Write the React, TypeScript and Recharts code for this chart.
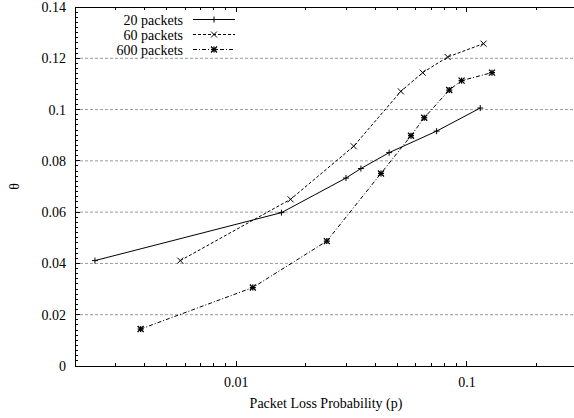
import { LineChart, Line, XAxis, YAxis, ReferenceLine, Legend } from "recharts"

// packet loss probability (p) vs theta
const p20 = [0.00244, 0.0157, 0.0299, 0.0347, 0.046, 0.0739, 0.1142]
const theta20 = [0.0411, 0.0598, 0.0733, 0.077, 0.0832, 0.0916, 0.1006]

const p60 = [0.00572, 0.0172, 0.0323, 0.0517, 0.0643, 0.0825, 0.118]
const theta60 = [0.0411, 0.065, 0.0857, 0.1071, 0.1144, 0.1205, 0.1257]

const p600 = [0.00385, 0.0118, 0.0247, 0.0424, 0.0572, 0.0653, 0.0838, 0.0948, 0.1284]
const theta600 = [0.0144, 0.0306, 0.0487, 0.0751, 0.0898, 0.0968, 0.1076, 0.1113, 0.1144]

const X_MAJOR = [0.01, 0.1]
const X_MINOR = [0.002, 0.003, 0.004, 0.005, 0.006, 0.007, 0.008, 0.009, 0.02, 0.03, 0.04, 0.05, 0.06, 0.07, 0.08, 0.09, 0.2, 0.3]
const Y_MAJOR = [0, 0.02, 0.04, 0.06, 0.08, 0.1, 0.12, 0.14]
const Y_GRID = [0.02, 0.04, 0.06, 0.08, 0.1, 0.12]
const Y_MINOR = Array.from({ length: 71 }, (_, i) => (i * 2) / 1000)

const FONT = "'Liberation Serif', 'Times New Roman', serif"

const toPoints = (xs: number[], ys: number[]) => xs.map((x, i) => ({ x, y: ys[i] }))

const series = [
  { name: "20 packets", data: toPoints(p20, theta20), dash: undefined, marker: "plus" },
  { name: "60 packets", data: toPoints(p60, theta60), dash: "3 2", marker: "cross" },
  { name: "600 packets", data: toPoints(p600, theta600), dash: "4 2 1 2", marker: "star" },
]

function Marker({ cx, cy, kind }: { cx: number; cy: number; kind: string }) {
  const s = 3
  const plus = (
    <>
      <line x1={cx - s} y1={cy} x2={cx + s} y2={cy} />
      <line x1={cx} y1={cy - s} x2={cx} y2={cy + s} />
    </>
  )
  const cross = (
    <>
      <line x1={cx - s} y1={cy - s} x2={cx + s} y2={cy + s} />
      <line x1={cx - s} y1={cy + s} x2={cx + s} y2={cy - s} />
    </>
  )
  return (
    <g stroke="#000" strokeWidth={kind === "star" ? 1.3 : 1}>
      {kind !== "cross" && plus}
      {kind !== "plus" && cross}
    </g>
  )
}

const isMajorX = (v: number) => X_MAJOR.includes(v)
const isMajorY = (v: number) => Y_MAJOR.some((m) => Math.abs(m - v) < 1e-9)

// gnuplot style: ticks point into the plot, only majors carry a label
function BottomTick(props: any) {
  const { x, y, payload } = props
  const major = isMajorX(payload.value)
  return (
    <g>
      <line x1={x} y1={y} x2={x} y2={y - (major ? 5 : 3)} stroke="#000" shapeRendering="crispEdges" />
      {major && (
        <text x={x} y={y + 21} textAnchor="middle" fontFamily={FONT} fontSize={14} fill="#000">
          {payload.value}
        </text>
      )}
    </g>
  )
}

function TopTick(props: any) {
  const { x, y, payload } = props
  const major = isMajorX(payload.value)
  return <line x1={x} y1={y} x2={x} y2={y + (major ? 5 : 3)} stroke="#000" shapeRendering="crispEdges" />
}

function LeftTick(props: any) {
  const { x, y, payload } = props
  const major = isMajorY(payload.value)
  return (
    <g>
      <line x1={x} y1={y} x2={x + (major ? 5 : 3)} y2={y} stroke="#000" shapeRendering="crispEdges" />
      {major && (
        <text x={x - 9} y={y + 5} textAnchor="end" fontFamily={FONT} fontSize={14} fill="#000">
          {payload.value}
        </text>
      )}
    </g>
  )
}

function LegendBox() {
  return (
    <svg width={250} height={60}>
      {series.map((s, i) => {
        const cy = 19.5 + i * 15
        return (
          <g key={s.name}>
            <text x={183} y={cy + 5} textAnchor="end" fontFamily={FONT} fontSize={14} fill="#000">
              {s.name}
            </text>
            <line x1={193} y1={cy} x2={235} y2={cy} stroke="#000" strokeDasharray={s.dash} />
            <Marker cx={214} cy={cy} kind={s.marker} />
          </g>
        )
      })}
    </svg>
  )
}

export default function App() {
  if (typeof document !== "undefined") document.body.style.margin = "0"
  const xTicks = [...X_MINOR, ...X_MAJOR].sort((a, b) => a - b)

  return (
    <div style={{ width: 574, height: 418, overflow: "hidden", position: "relative", background: "#fff" }}>
      <LineChart width={577} height={418} margin={{ top: 6, right: 0, bottom: 0, left: 0 }}>
        <XAxis
          xAxisId="bottom"
          dataKey="x"
          type="number"
          scale="log"
          domain={[0.002, 0.3]}
          allowDataOverflow
          ticks={xTicks}
          interval={0}
          height={52}
          tickSize={0}
          tickMargin={0}
          tickLine={false}
          axisLine={{ stroke: "#000", shapeRendering: "crispEdges" }}
          tick={(p: any) => <BottomTick {...p} />}
          label={{
            content: (p: any) => (
              <text
                x={p.viewBox.x + p.viewBox.width / 2}
                y={p.viewBox.y + 42}
                textAnchor="middle"
                fontFamily={FONT}
                fontSize={14}
                fill="#000"
              >
                Packet Loss Probability (p)
              </text>
            ),
          }}
        />
        <XAxis
          xAxisId="top"
          orientation="top"
          dataKey="x"
          type="number"
          scale="log"
          domain={[0.002, 0.3]}
          allowDataOverflow
          ticks={xTicks}
          interval={0}
          height={1}
          tickSize={0}
          tickMargin={0}
          tickLine={false}
          axisLine={{ stroke: "#000", shapeRendering: "crispEdges" }}
          tick={(p: any) => <TopTick {...p} />}
        />
        <YAxis
          type="number"
          domain={[0, 0.14]}
          allowDataOverflow
          ticks={Y_MINOR}
          interval={0}
          width={75}
          tickSize={0}
          tickMargin={0}
          tickLine={false}
          axisLine={{ stroke: "#000", shapeRendering: "crispEdges" }}
          tick={(p: any) => <LeftTick {...p} />}
          label={{
            content: (p: any) => {
              const cx = p.viewBox.x + 14
              const cy = p.viewBox.y + p.viewBox.height / 2
              return (
                <text
                  x={cx}
                  y={cy}
                  transform={`rotate(-90 ${cx} ${cy})`}
                  textAnchor="middle"
                  dominantBaseline="central"
                  fontFamily={FONT}
                  fontSize={14}
                  fill="#000"
                >
                  θ
                </text>
              )
            },
          }}
        />
        {Y_GRID.map((v) => (
          <ReferenceLine key={v} y={v} xAxisId="bottom" stroke="#9a9a9a" strokeDasharray="3 2" />
        ))}
        <Legend
          layout="vertical"
          align="center"
          verticalAlign="middle"
          wrapperStyle={{ left: 0, top: 0, width: 250, height: 60 }}
          content={() => <LegendBox />}
        />
        {series.map((s) => (
          <Line
            key={s.name}
            xAxisId="bottom"
            data={s.data}
            dataKey="y"
            name={s.name}
            type="linear"
            stroke="#000"
            strokeWidth={1}
            strokeDasharray={s.dash}
            isAnimationActive={false}
            dot={(d: any) => <Marker key={`${s.name}-${d.index}`} cx={d.cx} cy={d.cy} kind={s.marker} />}
            activeDot={false}
          />
        ))}
      </LineChart>
    </div>
  )
}
